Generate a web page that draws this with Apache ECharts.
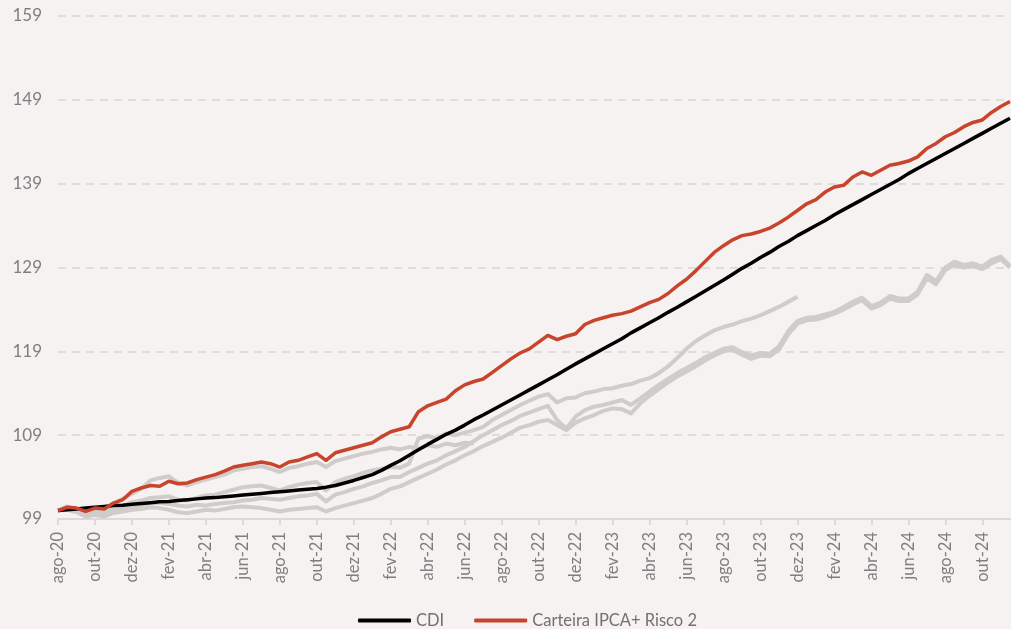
<!DOCTYPE html>
<html>
<head>
<meta charset="utf-8">
<script src="https://cdn.jsdelivr.net/npm/echarts@6.0.0/dist/echarts.min.js"></script>
<style>
  html, body { margin: 0; padding: 0; background: #f5f2f1; }
  #main { width: 1011px; height: 629px; }
</style>
</head>
<body>
<div id="main"></div>
<script>
// months on the axis, two points per month (1st and mid-month)
var months = ["ago-20", "set-20", "out-20", "nov-20", "dez-20", "jan-21", "fev-21", "mar-21",
  "abr-21", "mai-21", "jun-21", "jul-21", "ago-21", "set-21", "out-21", "nov-21", "dez-21",
  "jan-22", "fev-22", "mar-22", "abr-22", "mai-22", "jun-22", "jul-22", "ago-22", "set-22",
  "out-22", "nov-22", "dez-22", "jan-23", "fev-23", "mar-23", "abr-23", "mai-23", "jun-23",
  "jul-23", "ago-23", "set-23", "out-23", "nov-23", "dez-23", "jan-24", "fev-24", "mar-24",
  "abr-24", "mai-24", "jun-24", "jul-24", "ago-24", "set-24", "out-24", "nov-24"];

var yTicks = [99, 109, 119, 129, 139, 149, 159];

var cdi = [
  100.0, 100.1, 100.2, 100.3, 100.4, 100.5, 100.6, 100.65, 100.75, 100.85,
  100.95, 101.05, 101.1, 101.2, 101.3, 101.4, 101.5, 101.55, 101.65, 101.75,
  101.85, 101.95, 102.05, 102.15, 102.25, 102.35, 102.45, 102.55, 102.65, 102.8,
  103.0, 103.3, 103.6, 103.95, 104.3, 104.8, 105.4, 105.95, 106.6, 107.25,
  107.9, 108.5, 109.1, 109.6, 110.2, 110.85, 111.4, 112.0, 112.6, 113.2,
  113.8, 114.4, 115.0, 115.6, 116.2, 116.85, 117.5, 118.1, 118.7, 119.3,
  119.9, 120.5, 121.2, 121.8, 122.4, 123.0, 123.65, 124.25, 124.9, 125.55,
  126.2, 126.85, 127.5, 128.2, 128.9, 129.5, 130.2, 130.8, 131.5, 132.1,
  132.8, 133.4, 134.0, 134.6, 135.3, 135.9, 136.5, 137.1, 137.7, 138.3,
  138.9, 139.5, 140.2, 140.8, 141.4, 142.0, 142.6, 143.2, 143.8, 144.4,
  145.0, 145.6, 146.2, 146.8
];

var carteira = [
  100.0, 100.4, 100.3, 99.9, 100.3, 100.2, 100.9, 101.3, 102.3, 102.7,
  103.0, 102.9, 103.5, 103.2, 103.3, 103.7, 104.0, 104.3, 104.7, 105.2,
  105.4, 105.6, 105.8, 105.6, 105.2, 105.8, 106.0, 106.4, 106.8, 106.0,
  106.9, 107.2, 107.5, 107.8, 108.1, 108.8, 109.4, 109.7, 110.0, 111.8,
  112.5, 112.9, 113.3, 114.3, 115.0, 115.4, 115.7, 116.5, 117.3, 118.1,
  118.8, 119.3, 120.1, 120.9, 120.4, 120.8, 121.1, 122.2, 122.7, 123.0,
  123.3, 123.5, 123.8, 124.3, 124.8, 125.2, 125.9, 126.8, 127.6, 128.6,
  129.7, 130.8, 131.6, 132.3, 132.8, 133.0, 133.3, 133.7, 134.3, 135.0,
  135.8, 136.6, 137.1, 138.0, 138.6, 138.8, 139.8, 140.4, 140.0, 140.6,
  141.2, 141.4, 141.7, 142.2, 143.2, 143.8, 144.6, 145.1, 145.8, 146.3,
  146.6, 147.5, 148.2, 148.8
];

// grey comparison lines (not in the legend)
var cinza1 = [
  100.0, 100.5, 100.2, 99.7, 100.0, 99.9, 100.8, 101.4, 102.0, 102.6,
  103.6, 103.9, 104.1, 103.3, 103.0, 103.4, 103.7, 104.0, 104.3, 104.8,
  105.0, 105.2, 105.3, 105.0, 104.6, 105.1, 105.3, 105.6, 105.8, 105.2,
  105.9, 106.2, 106.5, 106.8, 107.0, 107.3, 107.5, 107.3, 107.6, 107.4,
  107.8, 107.6, 108.0, 107.8, 108.1, 108.0
];

var cinza2 = [
  100.0, 100.3, 100.0, 99.6, 99.8, 99.7, 100.3, 100.6, 101.0, 101.2,
  101.5, 101.6, 101.7, 101.3, 101.2, 101.5, 101.8, 101.9, 102.2, 102.5,
  102.8, 102.9, 103.0, 102.7, 102.4, 102.8, 103.1, 103.3, 103.4, 102.4,
  103.4, 103.8, 104.1, 104.5, 104.8, 105.0, 105.2, 105.1, 105.6, 108.6,
  108.9, 108.6, 109.2, 109.0, 109.3, 109.6, 110.0, 110.8, 111.4, 112.0,
  112.6, 113.1, 113.6, 113.9, 112.9, 113.4, 113.5, 114.0, 114.2, 114.5,
  114.6, 114.9, 115.1, 115.5, 115.8, 116.4, 117.2, 118.2, 119.3, 120.2,
  120.9, 121.5, 121.9, 122.2, 122.6, 122.9, 123.3, 123.8, 124.3, 124.9,
  125.5
];

var cinza3 = [
  100.0, 100.2, 99.9, 99.5, 99.6, 99.4, 99.9, 100.2, 100.4, 100.6,
  100.9, 100.9, 100.8, 100.6, 100.5, 100.7, 100.6, 100.8, 100.9, 101.0,
  101.2, 101.3, 101.5, 101.4, 101.3, 101.5, 101.7, 101.8, 102.0, 101.1,
  101.9, 102.2, 102.6, 102.9, 103.3, 103.6, 104.0, 104.0, 104.6, 105.1,
  105.6, 106.0, 106.6, 107.1, 107.6, 108.3, 109.0, 109.6, 110.2, 110.7,
  111.3, 111.7, 112.1, 112.5, 110.8, 109.8, 111.2, 112.0, 112.4, 112.6,
  112.9, 113.2, 112.6, 113.4, 114.2, 115.0, 115.7, 116.4, 117.0, 117.6,
  118.3, 118.8, 119.3, 119.5, 118.9, 118.5, 118.8, 118.7, 119.6, 121.4,
  122.6, 123.0, 123.1, 123.4, 123.7, 124.3, 124.9, 125.4, 124.4, 124.8,
  125.6, 125.3, 125.3, 126.1, 128.1, 127.4, 129.0, 129.7, 129.3, 129.5,
  129.1, 129.9, 130.3, 129.2
];

var cinza4 = [
  100.0, 100.1, 99.8, 99.3, 99.5, 99.3, 99.7, 99.9, 100.1, 100.2,
  100.4, 100.3, 100.1, 99.8, 99.7, 99.9, 100.1, 100.0, 100.2, 100.4,
  100.5, 100.4, 100.3, 100.1, 99.9, 100.1, 100.2, 100.3, 100.4, 99.9,
  100.3, 100.6, 100.9, 101.2, 101.5, 102.0, 102.6, 102.9, 103.4, 103.9,
  104.4, 104.9, 105.5, 106.0, 106.6, 107.1, 107.7, 108.2, 108.7, 109.3,
  109.9, 110.2, 110.6, 110.8, 110.2, 109.6, 110.5, 111.0, 111.4, 111.9,
  112.2, 112.1, 111.6, 112.8, 113.7, 114.5, 115.3, 116.0, 116.6, 117.2,
  117.9, 118.5, 119.0, 119.2, 118.6, 118.1, 118.5, 118.4, 119.2, 121.0,
  122.3, 122.7, 122.8, 123.1, 123.5, 124.0, 124.6, 125.1, 124.1, 124.5,
  125.3, 125.0, 125.0, 125.8, 127.7, 127.0, 128.7, 129.3, 129.0, 129.2,
  128.8, 129.5, 130.0, 129.0
];

var categories = [];
months.forEach(function (m) {
  categories.push(m);
  categories.push(m + " (15)");
});

var labelColor = "#7f7f7f";
var grey = "#cfcccb";

function greyLine(name, data) {
  return {
    name: name,
    type: "line",
    data: data,
    showSymbol: false,
    silent: true,
    lineStyle: { color: grey, width: 4, join: "round" },
    itemStyle: { color: grey },
    z: 1,
  };
}

var myChart = echarts.init(document.getElementById("main"));

myChart.setOption({
  animation: false,
  backgroundColor: "#f5f2f1",
  textStyle: { fontFamily: "Lato" },
  grid: { left: 58, right: 1, top: 16, bottom: 110, containLabel: false },
  legend: {
    data: ["CDI", "Carteira IPCA+ Risco 2"],
    top: 607,
    left: 353,
    icon: "roundRect",
    itemWidth: 53,
    itemHeight: 4,
    itemGap: 30,
    textStyle: { color: "#757070", fontSize: 16.5, fontFamily: "Lato" },
  },
  xAxis: {
    type: "category",
    boundaryGap: false,
    data: categories,
    axisLine: { lineStyle: { color: "#dcdad9", width: 2 } },
    axisTick: {
      show: true,
      length: 6,
      interval: function (i) { return i % 4 === 0; },
      lineStyle: { color: "#dcdad9", width: 2 },
    },
    axisLabel: {
      interval: function (i) { return i % 4 === 0; },
      rotate: 90,
      margin: 13,
      color: labelColor,
      fontSize: 16.5,
      fontFamily: "Lato",
    },
    splitLine: { show: false },
  },
  yAxis: {
    type: "value",
    min: yTicks[0],
    max: yTicks[yTicks.length - 1],
    interval: 10,
    axisLine: { show: false },
    axisTick: { show: false },
    axisLabel: { color: labelColor, fontSize: 17, margin: 16, fontFamily: "Lato" },
    splitLine: { lineStyle: { color: "#e0dcdb", width: 2, type: [8, 6] } },
  },
  series: [
    greyLine("cinza1", cinza1),
    greyLine("cinza2", cinza2),
    greyLine("cinza3", cinza3),
    greyLine("cinza4", cinza4),
    {
      name: "CDI",
      type: "line",
      data: cdi,
      showSymbol: false,
      lineStyle: { color: "#000000", width: 3.5 },
      itemStyle: { color: "#000000" },
      z: 3,
    },
    {
      name: "Carteira IPCA+ Risco 2",
      type: "line",
      data: carteira,
      showSymbol: false,
      lineStyle: { color: "#c8442c", width: 3.5, join: "round" },
      itemStyle: { color: "#c8442c" },
      z: 4,
    },
  ],
});
</script>
</body>
</html>
